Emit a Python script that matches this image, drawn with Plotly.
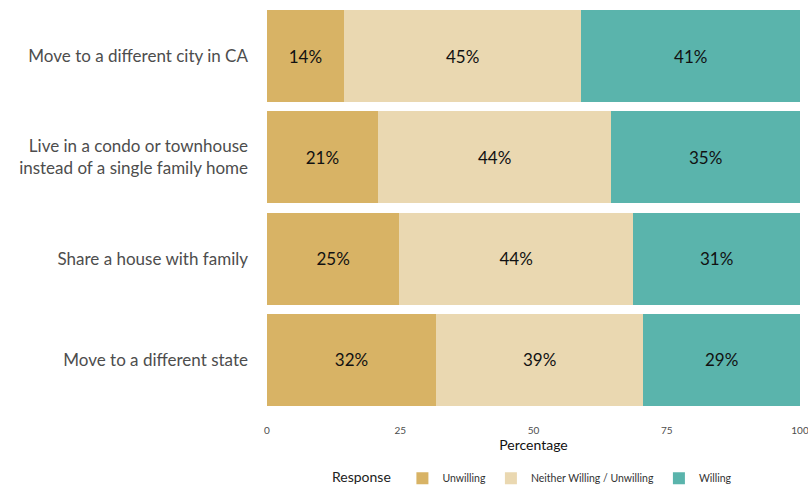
import plotly.graph_objects as go

categories = [
    "Move to a different city in CA",
    "Live in a condo or townhouse<br>instead of a single family home",
    "Share a house with family",
    "Move to a different state",
]
unwilling = [14.4, 20.8, 24.8, 31.7]
neither = [44.6, 43.8, 43.9, 38.9]
willing = [41.0, 35.4, 31.3, 29.4]
x_ticks = [0, 25, 50, 75, 100]

series = [
    ("Unwilling", unwilling, "#D8B365"),
    ("Neither Willing / Unwilling", neither, "#EAD8B1"),
    ("Willing", willing, "#5AB4AC"),
]

FONT = "Lato"
fig = go.Figure()
for name, vals, color in series:
    fig.add_trace(go.Bar(
        y=categories, x=vals, name=name, orientation="h",
        marker=dict(color=color, line=dict(width=0)),
        width=0.91,
        texttemplate="%{x:.0f}%", textposition="inside", insidetextanchor="middle",
        textfont=dict(family=FONT, size=17, color="#111111"),
        hoverinfo="skip",
    ))

fig.update_layout(
    barmode="stack",
    width=808, height=487,
    margin=dict(l=267, r=8, t=10, b=81, autoexpand=False),
    paper_bgcolor="white", plot_bgcolor="white",
    font=dict(family=FONT),
    showlegend=True,
    legend=dict(
        orientation="h", x=0.5, xanchor="center",
        yref="container", y=0.018, yanchor="middle",
        title=dict(text="Response ", font=dict(size=14, color="#222222")),
        font=dict(size=10.5, color="#333333"),
        traceorder="normal", itemwidth=30, tracegroupgap=0,
    ),
    xaxis=dict(
        range=[0, 100], tickvals=x_ticks, showgrid=False, zeroline=False,
        showline=False, ticks="", ticklabelstandoff=17, automargin=False,
        ticklabeloverflow="allow",
        tickfont=dict(size=10, color="#4D4D4D"),
        title=dict(text="Percentage", font=dict(size=14, color="#111111"), standoff=1),
    ),
    yaxis=dict(
        categoryorder="array", categoryarray=categories, automargin=False,
        range=[3.455, -0.455], showgrid=False, zeroline=False, showline=False,
        ticks="", ticklabelstandoff=18,
        tickfont=dict(size=17, color="#4D4D4D"),
    ),
)

fig.write_html(
    "out.html",
    config={"displayModeBar": False},
    post_script="document.body.style.margin='0';document.body.style.padding='0';",
)
